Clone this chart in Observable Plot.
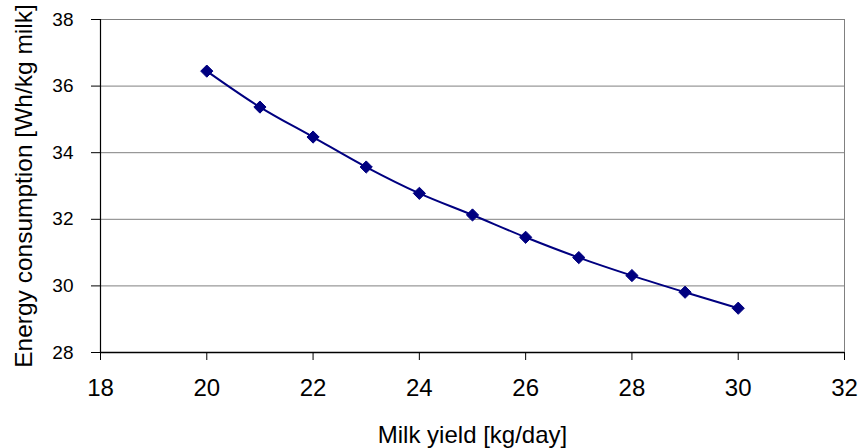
<!DOCTYPE html>
<html>
<head>
<meta charset="utf-8">
<script src="https://cdn.jsdelivr.net/npm/d3@7"></script>
<script src="https://cdn.jsdelivr.net/npm/@observablehq/plot@0.6"></script>
<style>
  html, body { margin: 0; padding: 0; background: #fff; }
  #chart svg { display: block; font-family: "Liberation Sans", Arial, sans-serif; }
  #chart g[aria-label="y-axis label"] text { font-size: 24.5px; }
  #chart g[aria-label="x-axis label"] text { font-size: 24px; }
  #chart g[aria-label="x-axis tick label"] text { font-size: 24px; }
  #chart g[aria-label="y-axis tick label"] text { font-size: 19px; }
</style>
</head>
<body>
<div id="chart"></div>
<script>
const milkYield = [20, 21, 22, 23, 24, 25, 26, 27, 28, 29, 30];
const energy = [36.45, 35.37, 34.47, 33.57, 32.78, 32.13, 31.46, 30.85, 30.31, 29.81, 29.33];
const xTicks = [18, 20, 22, 24, 26, 28, 30, 32];
const yTicks = [28, 30, 32, 34, 36, 38];
const xLabel = "Milk yield [kg/day]";
const yLabel = "Energy consumption [Wh/kg milk]";

const data = milkYield.map((x, i) => ({x, y: energy[i]}));
const navy = "#000080";

const chart = Plot.plot({
  width: 859,
  height: 448,
  marginLeft: 100,
  marginRight: 15,
  marginTop: 19,
  marginBottom: 96,
  style: {fontFamily: "'Liberation Sans', Arial, sans-serif", color: "#000", background: "#fff"},
  x: {domain: [18, 32], ticks: xTicks},
  y: {domain: [28, 38], ticks: yTicks},
  marks: [
    Plot.gridY(yTicks, {stroke: "#808080", strokeOpacity: 1, strokeWidth: 1}),
    Plot.ruleX([32], {stroke: "#808080", strokeWidth: 1}),
    Plot.ruleX([18], {stroke: "#000", strokeWidth: 1.2}),
    Plot.ruleY([28], {stroke: "#000", strokeWidth: 1.5}),
    Plot.axisX(xTicks, {
      tickSize: 8, tickPadding: 18, fontSize: 24, stroke: "#000",
      label: xLabel, labelAnchor: "center", labelArrow: "none", labelOffset: 90
    }),
    Plot.axisY(yTicks, {
      tickSize: 9, tickPadding: 18, fontSize: 19, stroke: "#000",
      label: yLabel, labelAnchor: "center", labelArrow: "none", labelOffset: 86
    }),
    Plot.line(data, {x: "x", y: "y", stroke: navy, strokeWidth: 2, curve: "catmull-rom"}),
    Plot.dot(data, {x: "x", y: "y", symbol: "diamond2", r: 5.5, fill: navy, stroke: navy, strokeWidth: 1})
  ]
});
document.getElementById("chart").appendChild(chart);
</script>
</body>
</html>
